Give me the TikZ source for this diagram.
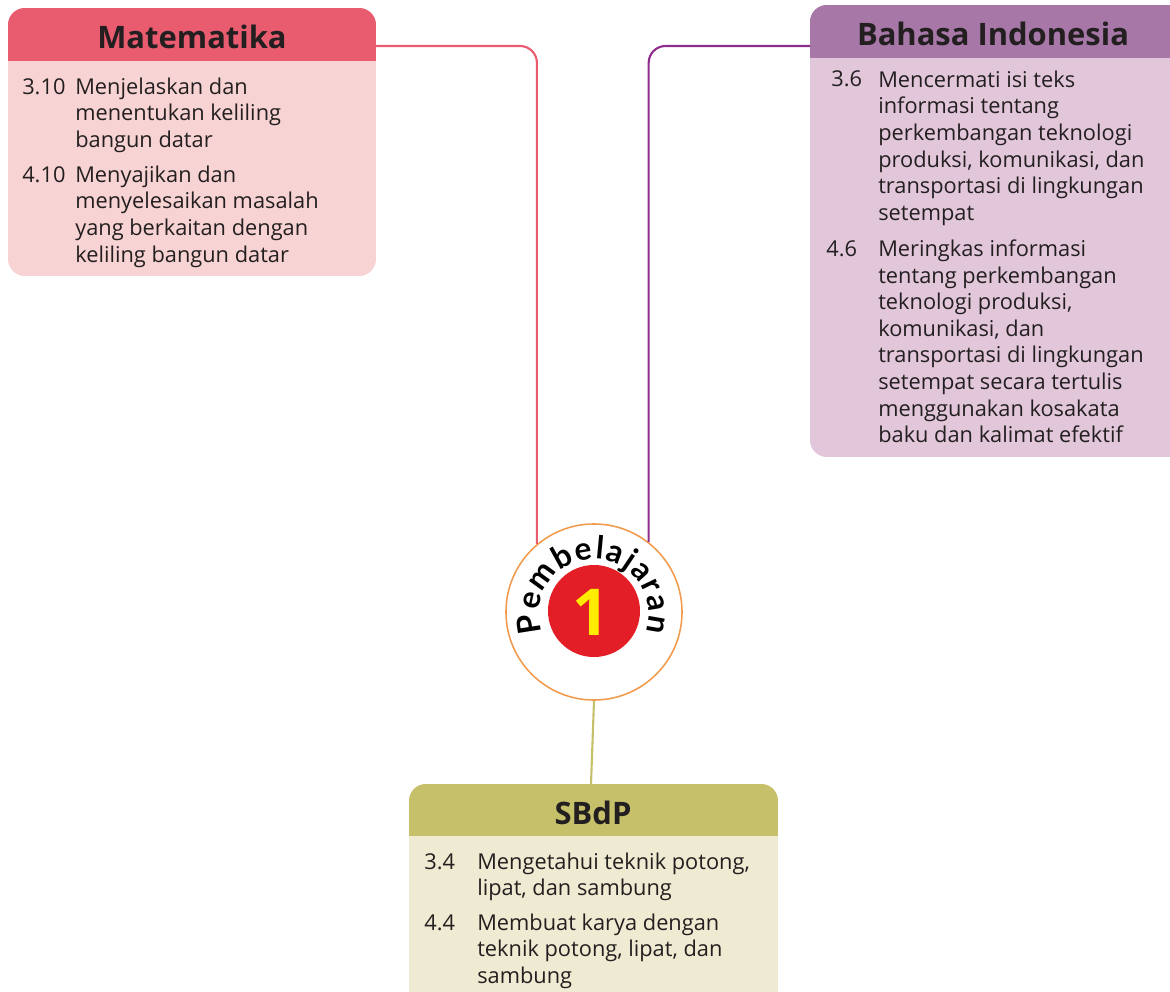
\documentclass[tikz,border=0pt]{standalone}
\usepackage{fontspec}
\setmainfont{Open Sans}
\newfontfamily\arcfont{Lato}
\usetikzlibrary{decorations.text}
\definecolor{ink}{HTML}{231F20}
\definecolor{mathead}{HTML}{E95B6F}
\definecolor{matbody}{HTML}{F8D3D3}
\definecolor{bahead}{HTML}{A677A7}
\definecolor{babody}{HTML}{E2C7DA}
\definecolor{baline}{HTML}{8E2D8C}
\definecolor{sbhead}{HTML}{C7C06A}
\definecolor{sbbody}{HTML}{EFEBD2}
\definecolor{ring}{HTML}{F29A4B}
\definecolor{badge}{HTML}{E41E26}
\definecolor{digit}{HTML}{FFEC00}

\begin{document}
\begin{tikzpicture}[x=0.025cm,y=0.025cm,
  every node/.style={text=ink,inner sep=0pt},
  head/.style={font=\bfseries\fontsize{22}{26}\selectfont,anchor=base},
  num/.style={font=\fontsize{15.5}{18.9}\selectfont,anchor=base west},
  item/.style={font=\fontsize{15.5}{18.9}\selectfont,align=left,anchor=base west},
  link/.style={line width=1.5pt,rounded corners=12}]

% The page is the reference frame; the boxes run past its right and bottom edges.
\clip (0,0) rectangle (1170,-992);

% Matematika (item nodes sit on the baseline of their last line)
\begin{scope}
  \clip[rounded corners=12] (8,-8) rectangle (376,-276);
  \fill[matbody] (8,-8) rectangle (376,-276);
  \fill[mathead] (8,-8) rectangle (376,-61);
\end{scope}
\node[head] (mat) at (192,-49) {Matematika};
\node[num] (mat1n) at (22,-94) {3.10};
\node[item] (mat1) at (75,-147.3) {Menjelaskan dan\\menentukan keliling\\bangun datar};
\node[num] (mat2n) at (22,-182) {4.10};
\node[item] (mat2) at (75,-262) {Menyajikan dan\\menyelesaikan masalah\\yang berkaitan dengan\\keliling bangun datar};
\coordinate (matout) at (376,-46);

% Bahasa Indonesia
\begin{scope}
  \clip[rounded corners=12] (810,-5) rectangle (1185,-457);
  \fill[babody] (810,-5) rectangle (1185,-457);
  \fill[bahead] (810,-5) rectangle (1185,-58);
\end{scope}
\node[head] (bhs) at (993,-46) {Bahasa Indonesia};
\node[num] (bhs1n) at (831,-87) {3.6};
\node[item] (bhs1) at (878,-220.3) {Mencermati isi teks\\informasi tentang\\perkembangan teknologi\\produksi, komunikasi, dan\\transportasi di lingkungan\\setempat};
\node[num] (bhs2n) at (826,-256) {4.6};
\node[item] (bhs2) at (878,-442.7) {Meringkas informasi\\tentang perkembangan\\teknologi produksi,\\komunikasi, dan\\transportasi di lingkungan\\setempat secara tertulis\\menggunakan kosakata\\baku dan kalimat efektif};
\coordinate (bhsout) at (810,-46);

% SBdP
\begin{scope}
  \clip[rounded corners=12] (409,-784) rectangle (778,-1010);
  \fill[sbbody] (409,-784) rectangle (778,-1010);
  \fill[sbhead] (409,-784) rectangle (778,-836);
\end{scope}
\node[head] (sbd) at (593,-824) {SBdP};
\node[num] (sbd1n) at (424,-869) {3.4};
\node[item] (sbd1) at (477,-895.7) {Mengetahui teknik potong,\\lipat, dan sambung};
\node[num] (sbd2n) at (424,-930) {4.4};
\node[item] (sbd2) at (477,-983.3) {Membuat karya dengan\\teknik potong, lipat, dan\\sambung};
\coordinate (sbdin) at (591,-784);

% Pembelajaran badge
\node[circle,draw=ring,line width=1.1pt,fill=white,minimum size=4.4cm] (pemb) at (594,-612) {};
\node[circle,fill=badge,minimum size=2.3cm] (badge) at (594,-611) {};
\node[font=\bfseries\fontsize{46}{46}\selectfont,text=digit] (one) at (591,-612) {1};
\path[decorate,decoration={text along path,text align=fit to path,
  text={|\arcfont\bfseries\fontsize{22.5}{22.5}\selectfont|Pembelajaran}}]
  (594,-614) ++(199:55) arc[start angle=199,end angle=-19,radius=55];

\draw[link,draw=mathead] (matout) -| (pemb.130);
\draw[link,draw=baline] (bhsout) -| (pemb.52);
\draw[link,draw=sbhead] (pemb.south) -- (sbdin);
\end{tikzpicture}
\end{document}
